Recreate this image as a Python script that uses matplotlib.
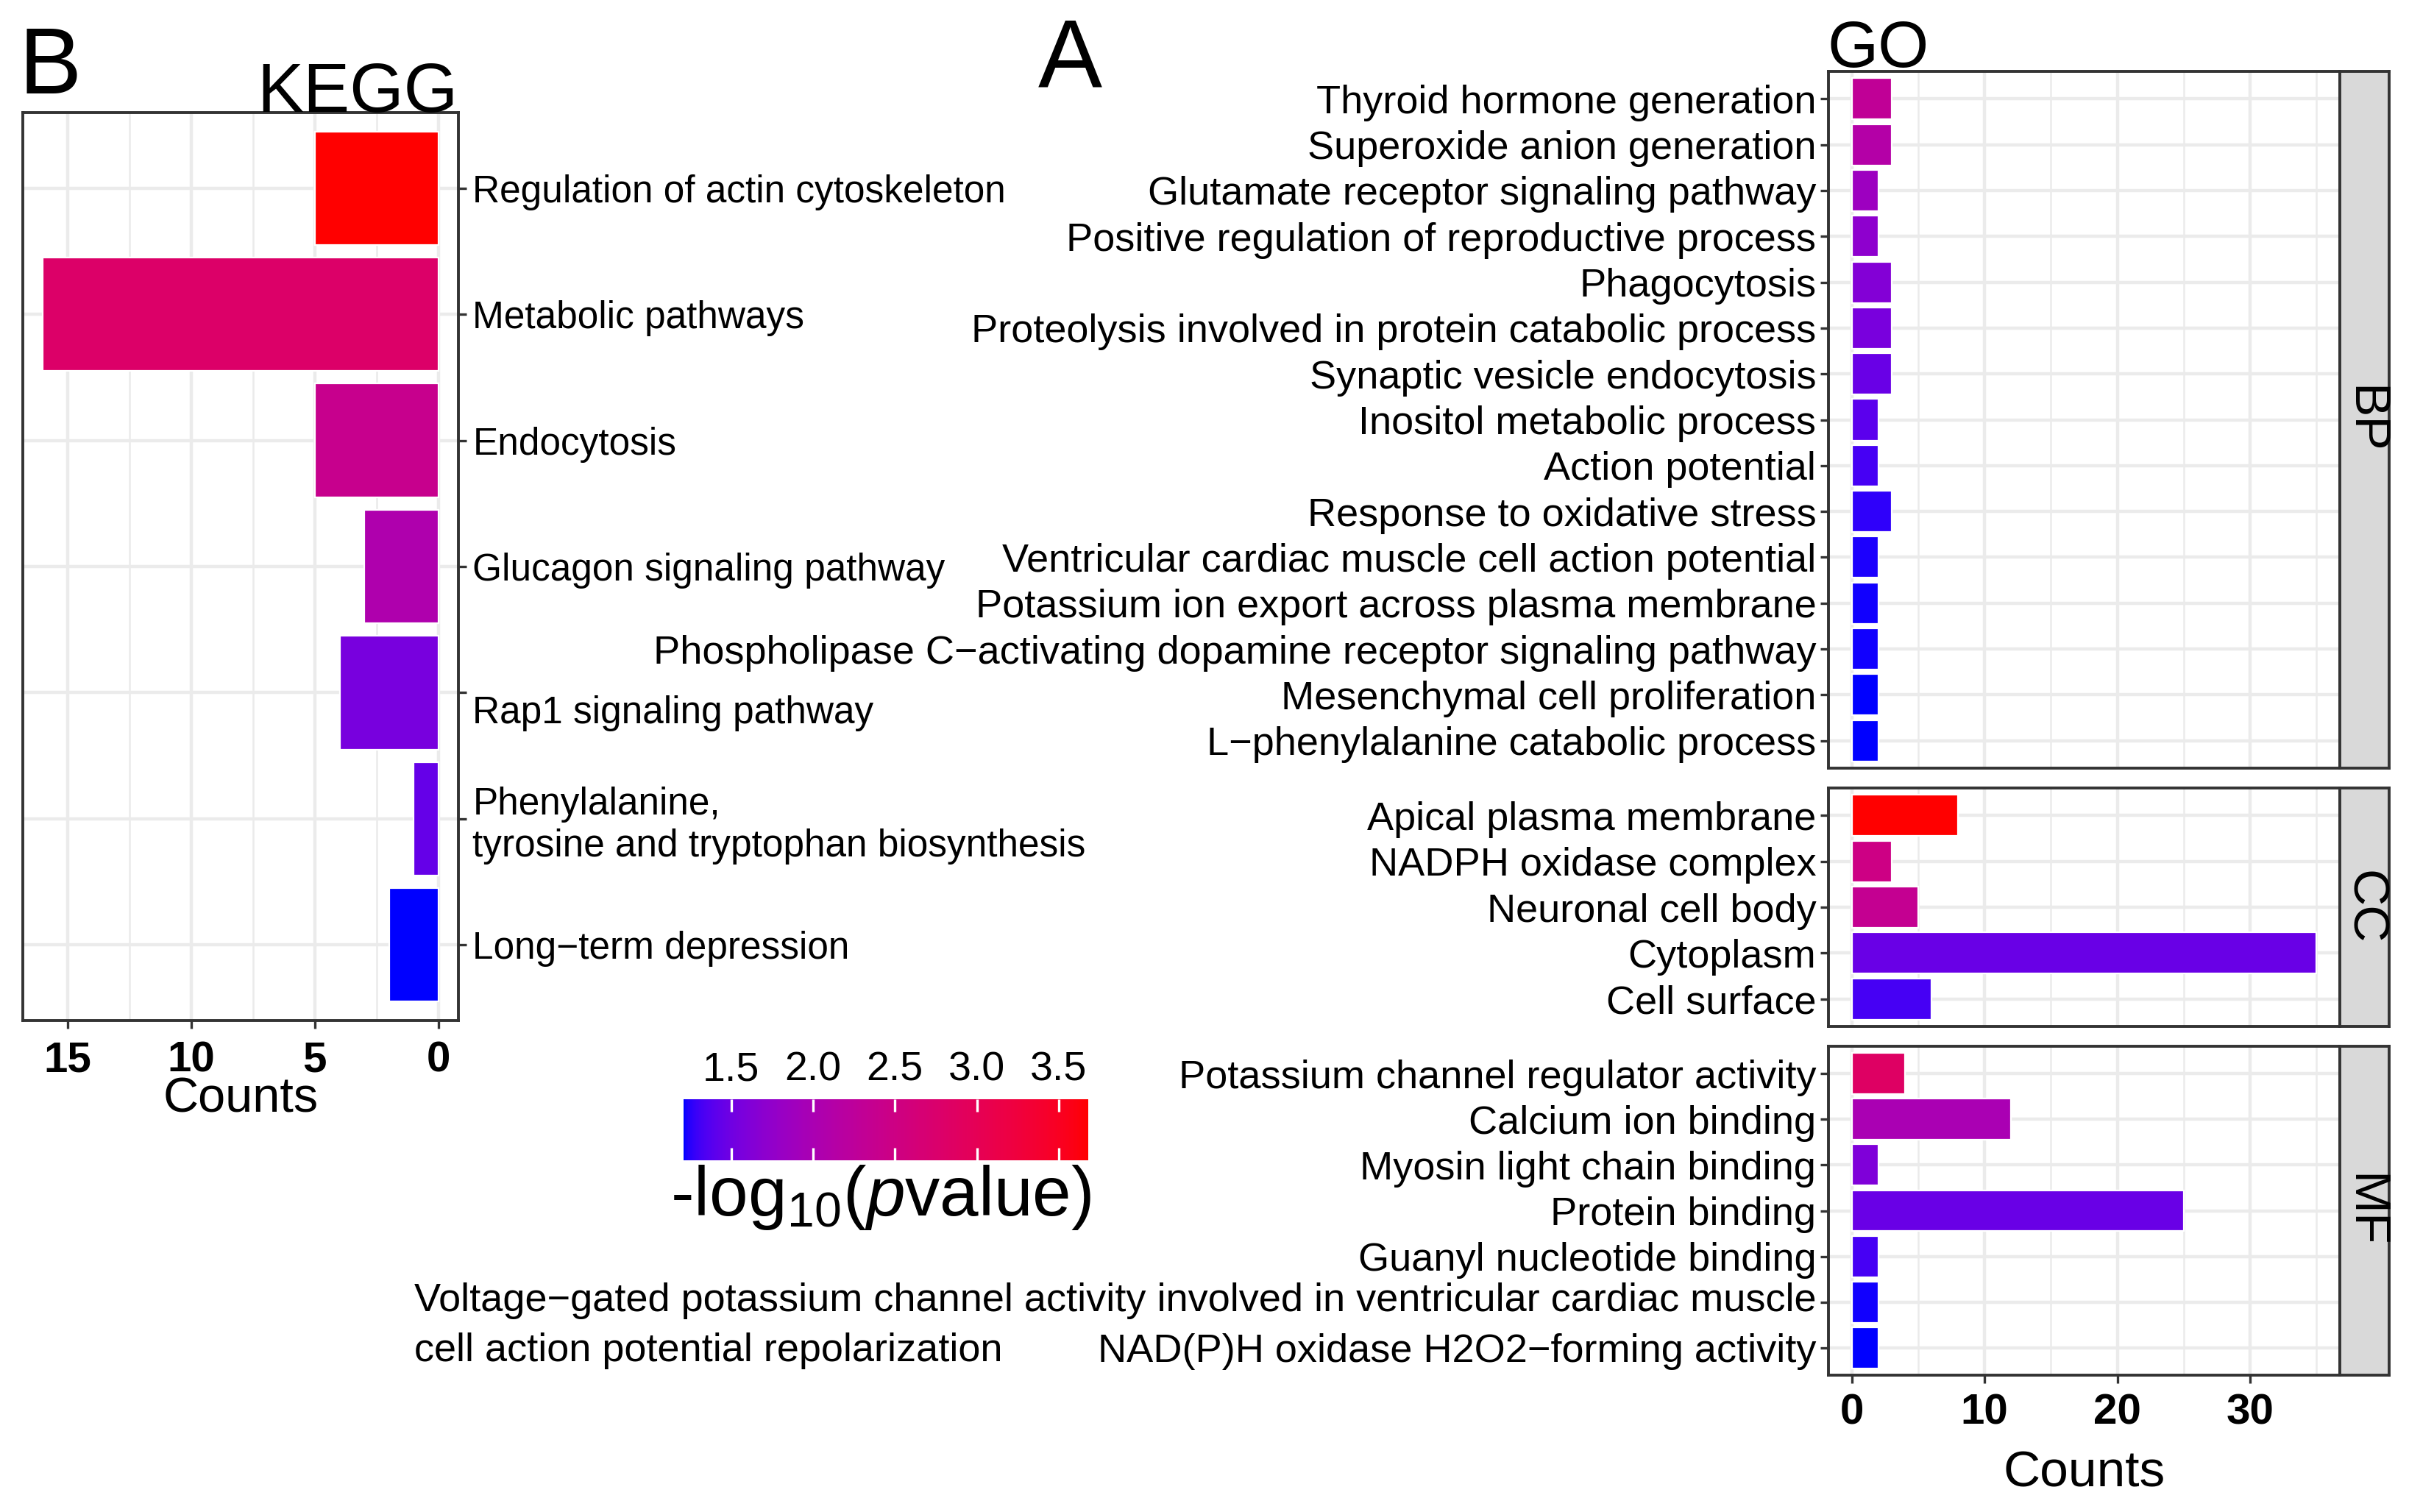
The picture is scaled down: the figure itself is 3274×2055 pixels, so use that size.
import numpy as np
import matplotlib
matplotlib.use("Agg")
import matplotlib.pyplot as plt
from matplotlib.colors import ListedColormap, Normalize
from matplotlib.ticker import MultipleLocator
from matplotlib.cm import ScalarMappable
from matplotlib import transforms

# ---- data -------------------------------------------------------------
kegg_terms = ["Regulation of actin cytoskeleton", "Metabolic pathways", "Endocytosis",
              "Glucagon signaling pathway", "Rap1 signaling pathway",
              "Phenylalanine,\ntyrosine and tryptophan biosynthesis", "Long\u2212term depression"]
kegg_counts = [5, 16, 5, 3, 4, 1, 2]
kegg_logp = [3.68, 2.8, 2.4, 2.05, 1.55, 1.45, 1.21]

bp_terms = ["Thyroid hormone generation", "Superoxide anion generation",
            "Glutamate receptor signaling pathway", "Positive regulation of reproductive process",
            "Phagocytosis", "Proteolysis involved in protein catabolic process",
            "Synaptic vesicle endocytosis", "Inositol metabolic process", "Action potential",
            "Response to oxidative stress", "Ventricular cardiac muscle cell action potential",
            "Potassium ion export across plasma membrane",
            "Phospholipase C\u2212activating dopamine receptor signaling pathway",
            "Mesenchymal cell proliferation", "L\u2212phenylalanine catabolic process"]
bp_counts = [3, 3, 2, 2, 3, 3, 3, 2, 2, 3, 2, 2, 2, 2, 2]
bp_logp = [2.3, 2.12, 1.85, 1.72, 1.63, 1.56, 1.47, 1.40, 1.32, 1.26, 1.23, 1.22, 1.22, 1.21, 1.21]

cc_terms = ["Apical plasma membrane", "NADPH oxidase complex", "Neuronal cell body",
            "Cytoplasm", "Cell surface"]
cc_counts = [8, 3, 5, 35, 6]
cc_logp = [3.68, 2.5, 2.35, 1.47, 1.32]

mf_terms = ["Potassium channel regulator activity", "Calcium ion binding",
            "Myosin light chain binding", "Protein binding", "Guanyl nucleotide binding",
            "Voltage\u2212gated potassium channel activity involved in ventricular cardiac muscle\n"
            "cell action potential repolarization",
            "NAD(P)H oxidase H2O2\u2212forming activity"]
mf_counts = [4, 12, 2, 25, 2, 2, 2]
mf_logp = [2.85, 2.0, 1.6, 1.47, 1.32, 1.22, 1.21]

cbar_ticks = [1.5, 2.0, 2.5, 3.0, 3.5]
vmin, vmax = 1.21, 3.68

# ---- style ------------------------------------------------------------
plt.rcParams['font.family'] = ['Liberation Sans', 'DejaVu Sans']
plt.rcParams['mathtext.fontset'] = 'custom'
plt.rcParams['mathtext.rm'] = 'Liberation Sans'
plt.rcParams['mathtext.it'] = 'Liberation Sans:italic'
BORDER = '#333333'
GRID = '#EBEBEB'

# blue -> red gradient interpolated in CIELAB (like ggplot's scale_fill_gradient)
M = np.array([[0.4124, 0.3576, 0.1805], [0.2126, 0.7152, 0.0722], [0.0193, 0.1192, 0.9505]])
WHITE = np.array([0.95047, 1.0, 1.08883])


def to_lab(rgb):
    c = np.asarray(rgb, float)
    lin = np.where(c <= 0.04045, c / 12.92, ((c + 0.055) / 1.055) ** 2.4)
    xyz = M @ lin / WHITE
    f = np.where(xyz > 0.008856, np.cbrt(xyz), 7.787 * xyz + 16 / 116)
    return np.array([116 * f[1] - 16, 500 * (f[0] - f[1]), 200 * (f[1] - f[2])])


def from_lab(lab):
    fy = (lab[0] + 16) / 116
    f = np.array([fy + lab[1] / 500, fy, fy - lab[2] / 200])
    xyz = np.where(f ** 3 > 0.008856, f ** 3, (f - 16 / 116) / 7.787) * WHITE
    lin = np.clip(np.linalg.solve(M, xyz), 0, 1)
    c = np.where(lin <= 0.0031308, 12.92 * lin, 1.055 * lin ** (1 / 2.4) - 0.055)
    return np.clip(c, 0, 1)


lo, hi = to_lab([0, 0, 1]), to_lab([1, 0, 0])
cmap = ListedColormap([from_lab(lo + t * (hi - lo)) for t in np.linspace(0, 1, 256)])
norm = Normalize(vmin, vmax)

W, H = 3274, 2055
fig = plt.figure(figsize=(W / 200, H / 200), dpi=200)


def rect(x0, y0, x1, y1):
    return [x0 / W, 1 - y1 / H, (x1 - x0) / W, (y1 - y0) / H]


def style_panel(ax, major, minor):
    ax.set_facecolor('white')
    ax.set_axisbelow(True)
    ax.xaxis.set_major_locator(MultipleLocator(major))
    ax.xaxis.set_minor_locator(MultipleLocator(minor))
    ax.grid(which='major', color=GRID, lw=1.6)
    ax.grid(which='minor', axis='x', color=GRID, lw=0.9)
    ax.tick_params(which='minor', length=0)
    ax.tick_params(which='major', length=4, width=1.2, color=BORDER)
    for s in ax.spines.values():
        s.set_color(BORDER)
        s.set_linewidth(1.4)


# ---- KEGG panel -------------------------------------------------------
ax = fig.add_axes(rect(31, 153, 623, 1387))
n = len(kegg_terms)
ax.barh(np.arange(n), kegg_counts, height=0.9, color=cmap(norm(kegg_logp)),
        edgecolor='white', linewidth=0.8)
style_panel(ax, 5, 2.5)
ax.set_xlim(16.8, -0.8)
ax.set_ylim(n - 0.4, -0.6)
ax.set_yticks(np.arange(n))
ax.set_yticklabels(kegg_terms, fontsize=18.5)
ax.yaxis.tick_right()
ax.tick_params(axis='y', pad=3)
# the Rap1 label sits a little below its tick in the original
rap = ax.yaxis.get_major_ticks()[4].label2
rap.set_transform(rap.get_transform() + transforms.ScaledTranslation(0, -8 / 72, fig.dpi_scale_trans))
for lab in ax.get_xticklabels():
    lab.set_fontweight('bold')
    lab.set_fontsize(21)
ax.tick_params(axis='x', pad=6)
ax.set_xlabel("Counts", fontsize=24, labelpad=-2)
fig.text(622 / W, 1 - 152 / H, "KEGG", fontsize=34, ha='right', va='baseline')
fig.text(25 / W, 1 - 127 / H, "B", fontsize=46, ha='left', va='baseline')
fig.text(1411 / W, 1 - 119 / H, "A", fontsize=47, ha='left', va='baseline')

# ---- GO panels --------------------------------------------------------
groups = [("BP", bp_terms, bp_counts, bp_logp, 97, 1044),
          ("CC", cc_terms, cc_counts, cc_logp, 1071, 1395),
          ("MF", mf_terms, mf_counts, mf_logp, 1422, 1869)]
for name, terms, counts, logp, top, bottom in groups:
    ax = fig.add_axes(rect(2485, top, 3180, bottom))
    n = len(terms)
    ax.barh(np.arange(n), counts, height=0.9, color=cmap(norm(logp)),
            edgecolor='white', linewidth=0.8)
    style_panel(ax, 10, 5)
    ax.set_xlim(-1.75, 36.75)
    ax.set_ylim(n - 0.4, -0.6)
    ax.set_yticks(np.arange(n))
    labels = [t if "\n" not in t else "" for t in terms]
    ax.set_yticklabels(labels, fontsize=19.5)
    ax.tick_params(axis='y', pad=2)
    for i, t in enumerate(terms):
        if "\n" in t:
            tr = transforms.offset_copy(
                transforms.blended_transform_factory(ax.transAxes, ax.transData),
                fig=fig, x=-6, y=9.5, units='points')
            ax.text(0, i, t, transform=tr, ha='right', va='top', multialignment='left',
                    fontsize=19.5, linespacing=1.45)
    if name != "MF":
        ax.tick_params(axis='x', labelbottom=False, length=0)
    else:
        for lab in ax.get_xticklabels():
            lab.set_fontweight('bold')
            lab.set_fontsize(21)
        ax.tick_params(axis='x', pad=5)
        ax.set_xlabel("Counts", fontsize=25, labelpad=8)
    if name == "BP":
        fig.text(2484 / W, 1 - 91 / H, "GO", fontsize=32, ha='left', va='baseline')

    sx = fig.add_axes(rect(3180, top, 3247, bottom))
    sx.set_facecolor('#D9D9D9')
    sx.set_xticks([])
    sx.set_yticks([])
    for s in sx.spines.values():
        s.set_color(BORDER)
        s.set_linewidth(1.4)
    sx.text(0.5, 0.5, name, rotation=-90, ha='center', va='center', fontsize=25,
            transform=sx.transAxes)

# ---- colour bar -------------------------------------------------------
cax = fig.add_axes(rect(929, 1494, 1479, 1577))
cb = fig.colorbar(ScalarMappable(norm=norm, cmap=cmap), cax=cax, orientation='horizontal')
cb.outline.set_visible(False)
cb.set_ticks(cbar_ticks)
cax.tick_params(axis='x', top=True, bottom=True, labeltop=True, labelbottom=False,
                direction='in', color='white', length=6, width=1.2, pad=5)
for lab in cax.get_xticklabels():
    lab.set_fontsize(20)
fig.text(1197 / W, 1 - 1628 / H, r"-log$_{10}$($p$value)", fontsize=34,
         ha='center', va='center')

fig.savefig("out.png", dpi=200)
